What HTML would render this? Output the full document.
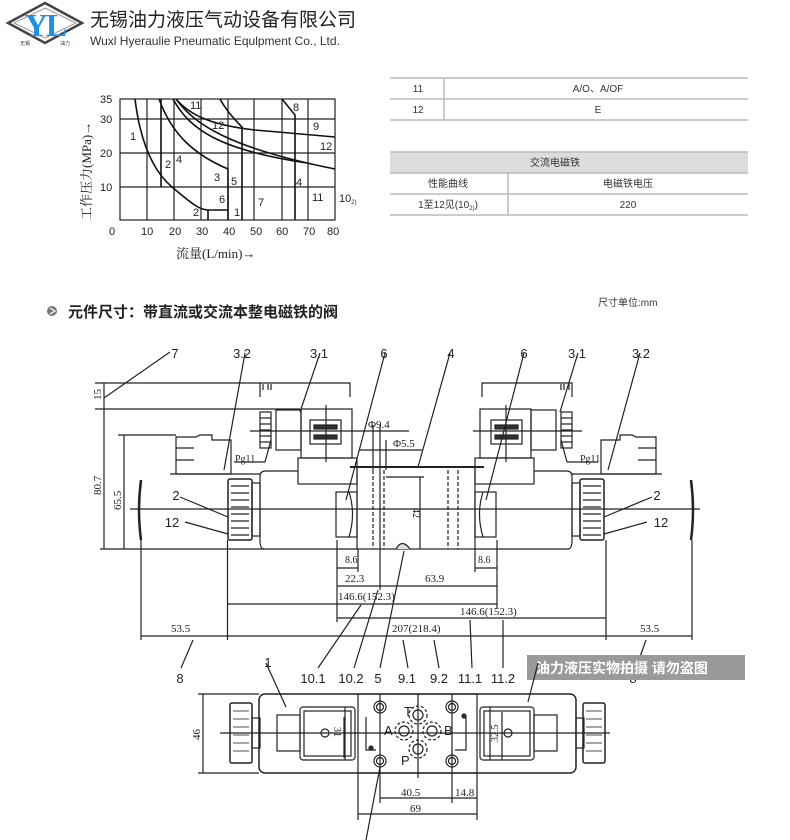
<!DOCTYPE html>
<html><head><meta charset="utf-8"><style>
html,body{margin:0;padding:0;background:#fff}
svg{display:block}
.s{font-family:"Liberation Sans","Noto Sans CJK SC",sans-serif}
.m{font-family:"Liberation Serif","Noto Serif CJK SC",serif}
</style></head><body>
<svg width="790" height="840" viewBox="0 0 790 840" xmlns="http://www.w3.org/2000/svg" fill="none" stroke="#222" stroke-width="1">
<!-- Logo -->
<g>
<polygon points="45,3 82,23 45,43 8,23" stroke="#444" stroke-width="2.5" fill="#fff"/>
<polygon points="45,8 76,23 45,38 14,23" stroke="#999" stroke-width="1" fill="#fff"/>
<text x="45" y="36" class="m" font-size="32" fill="#1e90e8" stroke="none" font-weight="bold" text-anchor="middle" letter-spacing="-2">YL</text>
<text x="20" y="45" class="s" font-size="5" fill="#333" stroke="none">无锡</text>
<text x="60" y="45" class="s" font-size="5" fill="#333" stroke="none">油力</text>
</g>
<text x="90" y="26" class="s" font-size="19" fill="#222" stroke="none">无锡油力液压气动设备有限公司</text>
<text x="90" y="45" class="s" font-size="12" fill="#333" stroke="none">Wuxl Hyeraulie Pneumatic Equlpment Co., Ltd.</text>

<!-- Chart -->
<g stroke="#222" stroke-width="1.2">
<rect x="120" y="99" width="215" height="121"/>
<line x1="147" y1="99" x2="147" y2="220"/><line x1="174" y1="99" x2="174" y2="220"/>
<line x1="201" y1="99" x2="201" y2="220"/><line x1="228" y1="99" x2="228" y2="220"/>
<line x1="254" y1="99" x2="254" y2="220"/><line x1="282" y1="99" x2="282" y2="220"/>
<line x1="308" y1="99" x2="308" y2="220"/>
<line x1="120" y1="119" x2="335" y2="119"/><line x1="120" y1="153" x2="335" y2="153"/>
<line x1="120" y1="187" x2="335" y2="187"/>
</g>
<g stroke="#111" stroke-width="1.6">
<path d="M135,99 C140,140 152,170 172,187 S200,210 208,210 L228,210"/>
<path d="M161,99 L161,187"/>
<path d="M208,210 L208,220"/>
<path d="M159,99 C172,135 195,155 228,169 L228,220"/>
<path d="M173,99 C190,130 220,150 307,163"/>
<path d="M176,99 C195,125 230,148 335,169"/>
<path d="M176,99 C190,115 210,125 255,130 L335,137"/>
<path d="M220,99 C226,110 235,120 242,127 L242,220"/>
<path d="M282,99 L295,115 L295,220"/>
</g>
<g class="s" font-size="11" fill="#222" stroke="none">
<text x="100" y="103">35</text><text x="100" y="123">30</text><text x="100" y="157">20</text><text x="100" y="191">10</text>
<text x="109" y="235">0</text><text x="141" y="235">10</text><text x="169" y="235">20</text><text x="196" y="235">30</text>
<text x="223" y="235">40</text><text x="250" y="235">50</text><text x="276" y="235">60</text><text x="303" y="235">70</text><text x="327" y="235">80</text>
<text x="130" y="140">1</text><text x="190" y="109">11</text><text x="212" y="129">12</text><text x="293" y="111">8</text>
<text x="313" y="130">9</text><text x="320" y="150">12</text><text x="165" y="168">2</text><text x="176" y="163">4</text>
<text x="214" y="181">3</text><text x="231" y="185">5</text><text x="219" y="203">6</text><text x="258" y="206">7</text>
<text x="296" y="186">4</text><text x="312" y="201">11</text><text x="339" y="202">10<tspan font-size="6" dy="2">2)</tspan></text>
<text x="193" y="216">2</text><text x="234" y="216">1</text>
<text x="176" y="258" class="m" font-size="13">流量(L/min)→</text>
</g>
<text transform="translate(91,220) rotate(-90)" class="m" font-size="13" fill="#222" stroke="none">工作压力(MPa)→</text>

<!-- Tables -->
<g stroke="#bbb" stroke-width="1.5">
<line x1="390" y1="78" x2="748" y2="78"/><line x1="390" y1="99" x2="748" y2="99"/><line x1="390" y1="120" x2="748" y2="120"/>
<line x1="444" y1="78" x2="444" y2="120"/>
<rect x="390" y="152" width="358" height="21" fill="#ddd" stroke="none"/>
<line x1="390" y1="152" x2="748" y2="152"/><line x1="390" y1="173" x2="748" y2="173"/><line x1="390" y1="194" x2="748" y2="194"/><line x1="390" y1="215" x2="748" y2="215"/>
<line x1="508" y1="173" x2="508" y2="215"/>
</g>
<g class="s" font-size="10" fill="#333" stroke="none" text-anchor="middle">
<text x="418" y="92">11</text><text x="598" y="92">A/O、A/OF</text>
<text x="418" y="113">12</text><text x="598" y="113">E</text>
<text x="555" y="166">交流电磁铁</text>
<text x="448" y="187">性能曲线</text><text x="628" y="187">电磁铁电压</text>
<text x="448" y="208">1至12见(10<tspan font-size="6" dy="2">2)</tspan><tspan dy="-2">)</tspan></text><text x="628" y="208">220</text>
</g>

<!-- Section heading -->
<circle cx="52" cy="311" r="5" fill="#777" stroke="none"/>
<path d="M50,308 L55,311 L50,314" stroke="#fff" stroke-width="1.2"/>
<text x="68" y="317" class="s" font-size="15" font-weight="bold" fill="#222" stroke="none">元件尺寸：带直流或交流本整电磁铁的阀</text>
<text x="598" y="306" class="s" font-size="10" fill="#333" stroke="none">尺寸单位:mm</text>

<!-- Main drawing: left solenoid group -->
<g id="sol" stroke="#222" stroke-width="1.2">
<path d="M260,397 L260,383 L350,383 L350,397"/>
<path d="M263,390 L263,384 M268,390 L268,384 M271,390 L271,384"/>
<rect x="260" y="412" width="11" height="36"/>
<line x1="260" y1="418" x2="271" y2="418"/><line x1="260" y1="424" x2="271" y2="424"/><line x1="260" y1="430" x2="271" y2="430"/><line x1="260" y1="436" x2="271" y2="436"/><line x1="260" y1="442" x2="271" y2="442"/>
<rect x="276" y="410" width="25" height="40"/>
<rect x="301" y="409" width="51" height="49"/>
<rect x="310" y="420" width="31" height="24"/>
<rect x="314" y="425" width="23" height="4" fill="#333"/><rect x="314" y="435" width="23" height="4" fill="#333"/>
<rect x="298" y="458" width="59" height="26"/>
<line x1="250" y1="431" x2="359" y2="431"/>
<line x1="326" y1="405" x2="326" y2="462"/>
<path d="M176,474 L176,437 L196,437 L200,435 L212,435 L212,440 L231,440 L231,474 Z"/>
<line x1="176" y1="448" x2="194" y2="448"/><line x1="176" y1="460" x2="194" y2="460"/>
<line x1="170" y1="474" x2="260" y2="474"/>
<rect x="228" y="479" width="24" height="61" rx="2" stroke-width="1.5"/>
<line x1="231" y1="486" x2="249" y2="486"/><line x1="231" y1="493" x2="249" y2="493"/><line x1="231" y1="500" x2="249" y2="500"/><line x1="231" y1="507" x2="249" y2="507"/><line x1="231" y1="514" x2="249" y2="514"/><line x1="231" y1="521" x2="249" y2="521"/><line x1="231" y1="528" x2="249" y2="528"/><line x1="231" y1="535" x2="249" y2="535"/>
<rect x="252" y="483" width="8" height="53"/>
<path d="M264,549 Q260,549 260,540 L260,476 Q260,471 266,471 L298,471 M357,549 L264,549"/>
<rect x="336" y="492" width="21" height="45"/>
<path d="M349,492 Q356,514 349,537"/>
<path d="M141,480 Q137,510 141,540" stroke-width="2.5"/>
</g>
<use href="#sol" transform="translate(832,0) scale(-1,1)"/>
<!-- center body -->
<g stroke="#222" stroke-width="1.2">
<rect x="357" y="467" width="118" height="82"/>
<line x1="350" y1="467" x2="484" y2="467" stroke-width="2"/>
<g stroke-dasharray="4,2"><line x1="373" y1="470" x2="373" y2="549"/><line x1="384" y1="470" x2="384" y2="549"/><line x1="448" y1="470" x2="448" y2="549"/><line x1="458" y1="470" x2="458" y2="549"/></g>
<path d="M396,549 Q402,538 410,549" fill="#ddd"/>
<line x1="130" y1="509" x2="700" y2="509"/>
<line x1="359" y1="431" x2="409" y2="431"/><line x1="359" y1="450" x2="422" y2="450"/>
<line x1="373" y1="425" x2="373" y2="470"/><line x1="380" y1="425" x2="380" y2="470"/><line x1="386" y1="440" x2="386" y2="470"/>
<line x1="386" y1="477" x2="424" y2="477"/>
<line x1="420" y1="477" x2="420" y2="549"/>
<line x1="95" y1="383" x2="260" y2="383"/><line x1="95" y1="409" x2="300" y2="409"/>
<line x1="104" y1="383" x2="104" y2="549"/>
<line x1="118" y1="435" x2="176" y2="435"/><line x1="124" y1="435" x2="124" y2="549"/>
<line x1="100" y1="549" x2="264" y2="549"/>
<line x1="141" y1="540" x2="141" y2="640"/><line x1="227.5" y1="540" x2="227.5" y2="640"/>
<line x1="606" y1="540" x2="606" y2="640"/><line x1="692" y1="540" x2="692" y2="640"/>
<line x1="337" y1="540" x2="337" y2="622"/><line x1="497" y1="540" x2="497" y2="608"/>
<line x1="380" y1="470" x2="380" y2="590"/><line x1="358" y1="549" x2="358" y2="572"/><line x1="475" y1="549" x2="475" y2="572"/>
<line x1="337" y1="568" x2="358" y2="568"/><line x1="475" y1="568" x2="497" y2="568"/>
<line x1="337" y1="586" x2="497" y2="586"/>
<line x1="227.5" y1="604" x2="497" y2="604"/>
<line x1="337" y1="618" x2="606" y2="618"/>
<line x1="141" y1="636" x2="692" y2="636"/>
<line x1="104" y1="398" x2="170" y2="352"/>
<line x1="224" y1="470" x2="245" y2="353"/>
<line x1="300" y1="412" x2="320" y2="353"/>
<line x1="346" y1="500" x2="385" y2="353"/>
<line x1="418" y1="467" x2="450" y2="353"/>
<line x1="486" y1="500" x2="524" y2="353"/>
<line x1="560" y1="412" x2="578" y2="353"/>
<line x1="608" y1="470" x2="640" y2="353"/>
<line x1="271" y1="440" x2="265" y2="462"/><line x1="234" y1="462" x2="265" y2="462"/>
<line x1="561" y1="440" x2="567" y2="462"/><line x1="567" y1="462" x2="598" y2="462"/>
<line x1="180" y1="497" x2="228" y2="517"/><line x1="185" y1="522" x2="228" y2="534"/>
<line x1="652" y1="497" x2="604" y2="517"/><line x1="647" y1="522" x2="604" y2="534"/>
<line x1="193" y1="640" x2="181" y2="668"/>
<line x1="361" y1="605" x2="318" y2="668"/>
<line x1="378" y1="590" x2="354" y2="668"/>
<line x1="404" y1="551" x2="380" y2="668"/>
<line x1="403" y1="640" x2="408" y2="668"/>
<line x1="434" y1="640" x2="439" y2="668"/>
<line x1="470" y1="620" x2="472" y2="668"/>
<line x1="503" y1="620" x2="503" y2="668"/>
<line x1="646" y1="640" x2="636" y2="668"/>
</g>
<g class="m" font-size="11" fill="#222" stroke="none">
<text x="345" y="563" font-size="10">8.6</text><text x="478" y="563" font-size="10">8.6</text>
<text x="345" y="582">22.3</text><text x="425" y="582">63.9</text>
<text x="338" y="600">146.6(152.3)</text><text x="460" y="615">146.6(152.3)</text>
<text x="392" y="632">207(218.4)</text>
<text x="171" y="632">53.5</text><text x="640" y="632">53.5</text>
<text x="368" y="428">Φ9.4</text><text x="393" y="447">Φ5.5</text>
<text x="235" y="462" font-size="10">Pg11</text><text x="580" y="462" font-size="10">Pg11</text>
<text transform="translate(101,400) rotate(-90)">15</text>
<text transform="translate(101,495) rotate(-90)">80.7</text>
<text transform="translate(121,510) rotate(-90)">65.5</text>
<text transform="translate(413,508) rotate(90)" font-size="10">42</text>
</g>
<g class="s" font-size="13" fill="#222" stroke="none" text-anchor="middle">
<text x="175" y="358">7</text><text x="242" y="358">3.2</text><text x="319" y="358">3.1</text><text x="384" y="358">6</text>
<text x="451" y="358">4</text><text x="524" y="358">6</text><text x="577" y="358">3.1</text><text x="641" y="358">3.2</text>
<text x="176" y="500">2</text><text x="172" y="527">12</text><text x="657" y="500">2</text><text x="661" y="527">12</text>
<text x="180" y="683">8</text><text x="268" y="667">1</text><text x="313" y="683">10.1</text><text x="351" y="683">10.2</text>
<text x="378" y="683">5</text><text x="407" y="683">9.1</text><text x="439" y="683">9.2</text><text x="470" y="683">11.1</text><text x="503" y="683">11.2</text>
<text x="633" y="683">8</text>
</g>
<rect x="527" y="655" width="218" height="25" fill="#9a9a9a" stroke="none"/>
<text x="536" y="673" class="s" font-size="14" font-weight="bold" fill="#fff" stroke="none">油力液压实物拍摄 请勿盗图</text>

<!-- Bottom view -->
<g stroke="#222" stroke-width="1.2">
<rect x="259" y="694" width="317" height="79" rx="6" stroke-width="1.5"/>
<rect x="358" y="694" width="119" height="79"/>
<rect x="230" y="703" width="22" height="60" rx="2" stroke-width="1.5"/>
<rect x="583" y="703" width="22" height="60" rx="2" stroke-width="1.5"/>
<g stroke-width="0.8">
<line x1="233" y1="711" x2="249" y2="711"/><line x1="233" y1="719" x2="249" y2="719"/><line x1="233" y1="727" x2="249" y2="727"/><line x1="233" y1="735" x2="249" y2="735"/><line x1="233" y1="743" x2="249" y2="743"/><line x1="233" y1="751" x2="249" y2="751"/>
<line x1="586" y1="711" x2="602" y2="711"/><line x1="586" y1="719" x2="602" y2="719"/><line x1="586" y1="727" x2="602" y2="727"/><line x1="586" y1="735" x2="602" y2="735"/><line x1="586" y1="743" x2="602" y2="743"/><line x1="586" y1="751" x2="602" y2="751"/>
</g>
<rect x="252" y="718" width="8" height="30"/><rect x="576" y="718" width="8" height="30"/>
<rect x="277" y="715" width="23" height="36"/><rect x="534" y="715" width="23" height="36"/>
<rect x="300" y="707" width="55" height="53" rx="3"/><rect x="480" y="707" width="54" height="53" rx="3"/>
<rect x="304" y="711" width="47" height="45"/><rect x="484" y="711" width="46" height="45"/>
<circle cx="325" cy="733" r="4"/><circle cx="508" cy="733" r="4"/>
<line x1="345" y1="707" x2="345" y2="760"/><line x1="490" y1="707" x2="490" y2="760"/>
<line x1="220" y1="733" x2="610" y2="733"/>
<circle cx="380" cy="707" r="6"/><circle cx="380" cy="707" r="3.5"/>
<circle cx="380" cy="761" r="6"/><circle cx="380" cy="761" r="3.5"/>
<circle cx="452" cy="707" r="6"/><circle cx="452" cy="707" r="3.5"/>
<circle cx="452" cy="761" r="6"/><circle cx="452" cy="761" r="3.5"/>
<g stroke-dasharray="3,2">
<circle cx="418" cy="715" r="9"/><circle cx="404" cy="731" r="9"/><circle cx="432" cy="731" r="9"/><circle cx="418" cy="749" r="9"/>
</g>
<circle cx="418" cy="715" r="5"/><circle cx="404" cy="731" r="5"/><circle cx="432" cy="731" r="5"/><circle cx="418" cy="749" r="5"/>
<line x1="418" y1="694" x2="418" y2="778"/>
<path d="M366,717 L366,750 L376,750"/><path d="M466,717 L466,750 L455,750"/>
<circle cx="371" cy="748" r="2" fill="#333"/><circle cx="464" cy="716" r="2" fill="#333"/>
<line x1="380" y1="694" x2="380" y2="803"/><line x1="452" y1="694" x2="452" y2="803"/>
<line x1="358" y1="773" x2="358" y2="820"/><line x1="477" y1="773" x2="477" y2="820"/>
<line x1="380" y1="798" x2="477" y2="798"/><line x1="358" y1="814" x2="477" y2="814"/>
<line x1="198" y1="694" x2="259" y2="694"/><line x1="198" y1="773" x2="259" y2="773"/>
<line x1="203" y1="694" x2="203" y2="773"/>
<line x1="344" y1="717" x2="344" y2="758"/><line x1="502" y1="712" x2="502" y2="760"/>
<line x1="380" y1="767" x2="366" y2="840"/>
<line x1="266" y1="663" x2="286" y2="707"/><line x1="538" y1="663" x2="528" y2="702"/>
</g>
<g class="m" font-size="11" fill="#222" stroke="none">
<text x="401" y="796">40.5</text><text x="455" y="796">14.8</text><text x="410" y="812">69</text>
<text transform="translate(200,740) rotate(-90)">46</text>
<text transform="translate(334,727) rotate(90)" font-size="10">31</text>
<text transform="translate(498,742) rotate(-90)" font-size="10">32.5</text>
</g>
<g class="s" font-size="13" fill="#222" stroke="none">
<text x="404" y="716">T</text><text x="384" y="735">A</text><text x="444" y="735">B</text><text x="401" y="765">P</text>
</g>
</svg>
</body></html>
